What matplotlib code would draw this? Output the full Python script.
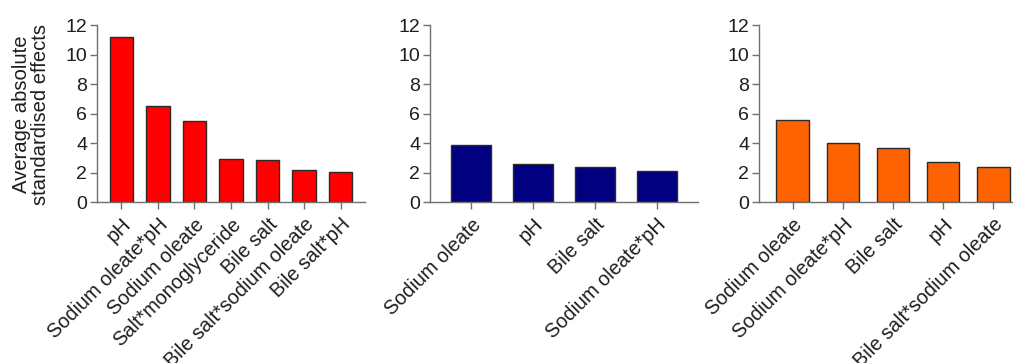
import matplotlib
matplotlib.use("Agg")
import matplotlib.pyplot as plt

plt.rcParams['font.family'] = ['Liberation Sans', 'DejaVu Sans']

# Average absolute standardised effects per factor, three response models
labels_a = ["pH", "Sodium oleate*pH", "Sodium oleate", "Salt*monoglyceride",
            "Bile salt", "Bile salt*sodium oleate", "Bile salt*pH"]
values_a = [11.2, 6.5, 5.5, 2.9, 2.85, 2.2, 2.05]

labels_b = ["Sodium oleate", "pH", "Bile salt", "Sodium oleate*pH"]
values_b = [3.9, 2.6, 2.4, 2.1]

labels_c = ["Sodium oleate", "Sodium oleate*pH", "Bile salt", "pH",
            "Bile salt*sodium oleate"]
values_c = [5.6, 4.0, 3.7, 2.75, 2.4]

colors = ["#FF0000", "#000080", "#FF6200"]
yticks = [0, 2, 4, 6, 8, 10, 12]

W, H = 1013, 363
fig = plt.figure(figsize=(W / 100, H / 100), dpi=100)

axis_left_px = [97, 430, 759]
ax_w_px = 268
y0_px, y12_px = 202.3, 25.0

panels = [(labels_a, values_a), (labels_b, values_b), (labels_c, values_c)]
axis_col = "#707070"
text_col = "#1e1e1e"

for i, (labs, vals) in enumerate(panels):
    ax = fig.add_axes([axis_left_px[i] / W, 1 - y0_px / H,
                       ax_w_px / W, (y0_px - y12_px) / H])
    x = list(range(len(vals)))
    ax.bar(x, vals, width=0.65, color=colors[i], edgecolor="#2a2a2a",
           linewidth=1.0, zorder=2)
    ax.set_xlim(-0.67, len(vals) - 1 + 0.67)
    ax.set_ylim(0, 12)
    ax.set_yticks(yticks)
    ax.set_yticklabels([str(t) for t in yticks], fontsize=14, color=text_col)
    ax.set_xticks(x)
    ax.set_xticklabels(labs, rotation=45, ha="right", va="top",
                       rotation_mode="anchor", fontsize=14.3, color=text_col)
    for s in ("top", "right"):
        ax.spines[s].set_visible(False)
    for s in ("left", "bottom"):
        ax.spines[s].set_color(axis_col)
        ax.spines[s].set_linewidth(1.0)
    ax.tick_params(axis="both", direction="out", length=5, width=1.0,
                   color=axis_col, pad=2)
    ax.tick_params(axis="x", pad=4)
    if i == 0:
        ax.set_ylabel("Average absolute\nstandardised effects", fontsize=14.6,
                      color=text_col, linespacing=1.0)
        ax.yaxis.label.set_verticalalignment("center")
        ax.yaxis.set_label_coords((31.5 - 97) / ax_w_px, 0.495)

fig.savefig("out.png", dpi=100)
